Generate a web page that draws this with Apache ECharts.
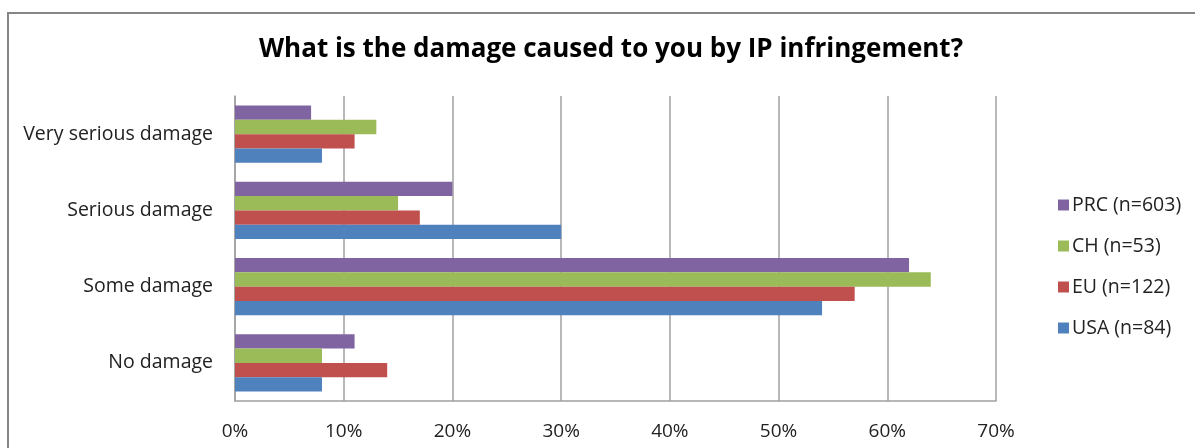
<!DOCTYPE html>
<html><head><meta charset="utf-8">
<script src="https://cdn.jsdelivr.net/npm/echarts@6/dist/echarts.min.js"></script>
<style>html,body{margin:0;padding:0;background:#fff}#c{width:1195px;height:448px}</style>
</head><body><div id="c"></div>
<script>
const categories = ['No damage', 'Some damage', 'Serious damage', 'Very serious damage'];
const seriesNames = ['PRC (n=603)', 'CH (n=53)', 'EU (n=122)', 'USA (n=84)'];
const prc = [11, 62, 20, 7];
const ch = [8, 64, 15, 13];
const eu = [14, 57, 17, 11];
const usa = [8, 54, 30, 8];
const colors = ['#8064A2', '#9BBB59', '#C0504D', '#4F81BD'];
const values = [prc, ch, eu, usa];
const font = '"Open Sans", Lato, sans-serif';

const chart = echarts.init(document.getElementById('c'));
chart.setOption({
  animation: false,
  graphic: [{
    type: 'rect', left: 7, top: 12, z: -1,
    shape: { width: 1200, height: 460 },
    style: { fill: '#fff', stroke: '#868686', lineWidth: 2 }
  }],
  title: {
    text: 'What is the damage caused to you by IP infringement?',
    left: 606, top: 32, textAlign: 'center',
    textStyle: { fontFamily: font, fontSize: 26, fontWeight: 'bold', color: '#000' }
  },
  legend: {
    orient: 'vertical', left: 1053, top: 190, itemGap: 21,
    itemWidth: 11, itemHeight: 11, icon: 'rect',
    textStyle: { fontFamily: font, fontSize: 19.5, color: '#222', padding: [0, 0, 0, -2] },
    data: seriesNames
  },
  grid: { left: 235, top: 96, width: 761, height: 305, containLabel: false },
  xAxis: {
    type: 'value', min: 0, max: 70, interval: 10,
    axisLabel: { formatter: '{value}%', fontFamily: font, fontSize: 19, color: '#222', margin: 21 },
    axisLine: { show: true, lineStyle: { color: '#A0A0A0', width: 1.5 } },
    axisTick: { show: false },
    splitLine: { show: true, lineStyle: { color: '#A0A0A0', width: 1.5 } }
  },
  yAxis: {
    type: 'category', data: categories,
    axisLabel: { fontFamily: font, fontSize: 19.5, color: '#222', margin: 22 },
    axisLine: { show: true, lineStyle: { color: '#A0A0A0', width: 1.5 } },
    axisTick: { show: false }
  },
  series: seriesNames.map((n, i) => ({
    name: n, type: 'bar', data: values[i],
    itemStyle: { color: colors[i] },
    barGap: '0%', barCategoryGap: '25%'
  }))
});
</script></body></html>
